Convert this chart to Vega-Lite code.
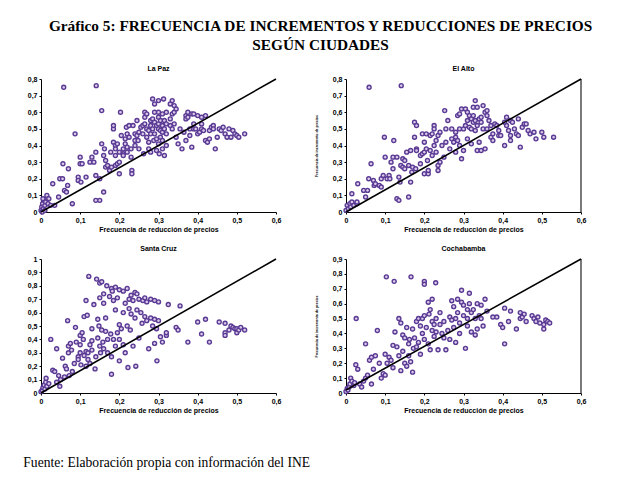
{
  "$schema": "https://vega.github.io/schema/vega-lite/v6.json",
  "background": "white",
  "padding": {"left": 23, "top": 18, "right": 5, "bottom": 5},
  "title": {
    "text": ["Gráfico 5: FRECUENCIA DE INCREMENTOS Y REDUCCIONES DE PRECIOS", "SEGÚN CIUDADES"],
    "font": "Liberation Serif",
    "fontSize": 15.3,
    "fontWeight": "bold",
    "color": "black",
    "anchor": "middle",
    "lineHeight": 19,
    "offset": 12,
    "dx": 16
  },
  "config": {
    "view": {"stroke": null},
    "concat": {"spacing": 33},
    "axis": {
      "grid": false,
      "domainColor": "black",
      "domainWidth": 1,
      "tickColor": "black",
      "tickSize": 2,
      "labelFont": "Liberation Sans",
      "labelFontSize": 7,
      "labelFontWeight": "bold",
      "labelColor": "black",
      "labelPadding": 2,
      "titleFont": "Liberation Sans",
      "titleFontWeight": "bold",
      "titleColor": "black"
    },
    "axisX": {"titleFontSize": 7, "titlePadding": 2},
    "axisY": {"titleFontSize": 3.5, "titlePadding": 14},
    "title": {"font": "Liberation Sans", "fontSize": 7, "fontWeight": "bold", "color": "black", "offset": 3}
  },
  "datasets": {
    "lapaz": [
      {"x":0,"y":0.01},{"x":0.002,"y":0.03},{"x":0.004,"y":0.05},{"x":0.006,"y":0.02},{"x":0.008,"y":0.07},{"x":0.01,"y":0.04},{"x":0.012,"y":0.06},{"x":0.005,"y":0.08},{"x":0.015,"y":0.1},{"x":0.018,"y":0.05},{"x":0.02,"y":0.08},{"x":0.003,"y":0.0},{"x":0.01,"y":0.01},{"x":0.025,"y":0.04},{"x":0.03,"y":0.17},{"x":0.035,"y":0.04},{"x":0.045,"y":0.09},{"x":0.048,"y":0.2},{"x":0.055,"y":0.2},{"x":0.056,"y":0.29},{"x":0.06,"y":0.13},{"x":0.065,"y":0.12},{"x":0.068,"y":0.16},{"x":0.07,"y":0.26},{"x":0.08,"y":0.05},{"x":0.087,"y":0.47},{"x":0.058,"y":0.75},{"x":0.095,"y":0.21},{"x":0.095,"y":0.19},{"x":0.1,"y":0.29},{"x":0.1,"y":0.33},{"x":0.102,"y":0.18},{"x":0.105,"y":0.29},{"x":0.115,"y":0.21},{"x":0.125,"y":0.3},{"x":0.13,"y":0.33},{"x":0.135,"y":0.3},{"x":0.14,"y":0.36},{"x":0.14,"y":0.22},{"x":0.14,"y":0.07},{"x":0.15,"y":0.07},{"x":0.141,"y":0.76},{"x":0.15,"y":0.2},{"x":0.155,"y":0.61},{"x":0.155,"y":0.41},{"x":0.16,"y":0.34},{"x":0.16,"y":0.12},{"x":0.162,"y":0.38},{"x":0.165,"y":0.31},{"x":0.165,"y":0.27},{"x":0.17,"y":0.28},{"x":0.175,"y":0.25},{"x":0.178,"y":0.36},{"x":0.18,"y":0.27},{"x":0.185,"y":0.5},{"x":0.185,"y":0.52},{"x":0.185,"y":0.42},{"x":0.19,"y":0.4},{"x":0.19,"y":0.38},{"x":0.19,"y":0.34},{"x":0.19,"y":0.28},{"x":0.195,"y":0.41},{"x":0.195,"y":0.29},{"x":0.2,"y":0.3},{"x":0.2,"y":0.36},{"x":0.2,"y":0.23},{"x":0.203,"y":0.6},{"x":0.205,"y":0.46},{"x":0.21,"y":0.38},{"x":0.21,"y":0.35},{"x":0.21,"y":0.34},{"x":0.215,"y":0.41},{"x":0.215,"y":0.44},{"x":0.218,"y":0.51},{"x":0.22,"y":0.47},{"x":0.22,"y":0.39},{"x":0.22,"y":0.36},{"x":0.225,"y":0.52},{"x":0.225,"y":0.45},{"x":0.23,"y":0.38},{"x":0.23,"y":0.33},{"x":0.232,"y":0.25},{"x":0.232,"y":0.23},{"x":0.235,"y":0.52},{"x":0.24,"y":0.47},{"x":0.24,"y":0.43},{"x":0.24,"y":0.4},{"x":0.245,"y":0.55},{"x":0.245,"y":0.46},{"x":0.248,"y":0.43},{"x":0.25,"y":0.38},{"x":0.25,"y":0.48},{"x":0.255,"y":0.51},{"x":0.26,"y":0.47},{"x":0.26,"y":0.52},{"x":0.262,"y":0.35},{"x":0.265,"y":0.6},{"x":0.265,"y":0.57},{"x":0.265,"y":0.53},{"x":0.27,"y":0.5},{"x":0.27,"y":0.45},{"x":0.27,"y":0.59},{"x":0.275,"y":0.49},{"x":0.275,"y":0.42},{"x":0.275,"y":0.38},{"x":0.28,"y":0.55},{"x":0.28,"y":0.52},{"x":0.28,"y":0.47},{"x":0.28,"y":0.36},{"x":0.285,"y":0.68},{"x":0.285,"y":0.56},{"x":0.285,"y":0.5},{"x":0.288,"y":0.43},{"x":0.29,"y":0.65},{"x":0.29,"y":0.6},{"x":0.29,"y":0.54},{"x":0.29,"y":0.47},{"x":0.295,"y":0.52},{"x":0.295,"y":0.44},{"x":0.295,"y":0.37},{"x":0.3,"y":0.67},{"x":0.3,"y":0.6},{"x":0.3,"y":0.57},{"x":0.3,"y":0.53},{"x":0.3,"y":0.5},{"x":0.3,"y":0.41},{"x":0.302,"y":0.35},{"x":0.305,"y":0.55},{"x":0.305,"y":0.49},{"x":0.305,"y":0.45},{"x":0.31,"y":0.59},{"x":0.31,"y":0.52},{"x":0.31,"y":0.48},{"x":0.31,"y":0.43},{"x":0.31,"y":0.38},{"x":0.313,"y":0.68},{"x":0.315,"y":0.55},{"x":0.315,"y":0.5},{"x":0.315,"y":0.34},{"x":0.32,"y":0.6},{"x":0.32,"y":0.53},{"x":0.32,"y":0.47},{"x":0.32,"y":0.4},{"x":0.33,"y":0.65},{"x":0.33,"y":0.56},{"x":0.33,"y":0.52},{"x":0.335,"y":0.67},{"x":0.335,"y":0.59},{"x":0.335,"y":0.5},{"x":0.34,"y":0.64},{"x":0.34,"y":0.6},{"x":0.34,"y":0.53},{"x":0.345,"y":0.62},{"x":0.345,"y":0.45},{"x":0.35,"y":0.41},{"x":0.355,"y":0.5},{"x":0.36,"y":0.38},{"x":0.365,"y":0.48},{"x":0.37,"y":0.58},{"x":0.37,"y":0.56},{"x":0.37,"y":0.43},{"x":0.375,"y":0.6},{"x":0.375,"y":0.57},{"x":0.38,"y":0.5},{"x":0.38,"y":0.46},{"x":0.385,"y":0.59},{"x":0.385,"y":0.39},{"x":0.39,"y":0.59},{"x":0.39,"y":0.53},{"x":0.39,"y":0.5},{"x":0.395,"y":0.5},{"x":0.4,"y":0.58},{"x":0.4,"y":0.47},{"x":0.405,"y":0.48},{"x":0.41,"y":0.57},{"x":0.41,"y":0.53},{"x":0.41,"y":0.5},{"x":0.415,"y":0.49},{"x":0.42,"y":0.58},{"x":0.42,"y":0.43},{"x":0.425,"y":0.42},{"x":0.43,"y":0.49},{"x":0.43,"y":0.44},{"x":0.435,"y":0.51},{"x":0.44,"y":0.52},{"x":0.44,"y":0.5},{"x":0.445,"y":0.38},{"x":0.45,"y":0.45},{"x":0.455,"y":0.5},{"x":0.46,"y":0.49},{"x":0.465,"y":0.51},{"x":0.47,"y":0.47},{"x":0.475,"y":0.45},{"x":0.48,"y":0.5},{"x":0.485,"y":0.45},{"x":0.49,"y":0.49},{"x":0.495,"y":0.47},{"x":0.5,"y":0.46},{"x":0.505,"y":0.45},{"x":0.52,"y":0.47}
    ],
    "elalto": [
      {"x":0,"y":0.01},{"x":0.003,"y":0.04},{"x":0.006,"y":0.02},{"x":0.01,"y":0.05},{"x":0.012,"y":0.03},{"x":0.015,"y":0.06},{"x":0.015,"y":0.11},{"x":0.02,"y":0.04},{"x":0.028,"y":0.05},{"x":0.03,"y":0.17},{"x":0.028,"y":0.06},{"x":0.045,"y":0.13},{"x":0.05,"y":0.09},{"x":0.055,"y":0.13},{"x":0.058,"y":0.2},{"x":0.059,"y":0.75},{"x":0.064,"y":0.29},{"x":0.07,"y":0.19},{"x":0.072,"y":0.16},{"x":0.075,"y":0.17},{"x":0.085,"y":0.16},{"x":0.09,"y":0.2},{"x":0.09,"y":0.15},{"x":0.095,"y":0.22},{"x":0.098,"y":0.45},{"x":0.1,"y":0.33},{"x":0.105,"y":0.2},{"x":0.11,"y":0.22},{"x":0.112,"y":0.2},{"x":0.115,"y":0.3},{"x":0.12,"y":0.26},{"x":0.12,"y":0.33},{"x":0.122,"y":0.43},{"x":0.13,"y":0.33},{"x":0.13,"y":0.08},{"x":0.135,"y":0.07},{"x":0.135,"y":0.21},{"x":0.138,"y":0.18},{"x":0.141,"y":0.76},{"x":0.14,"y":0.28},{"x":0.145,"y":0.32},{"x":0.145,"y":0.27},{"x":0.15,"y":0.31},{"x":0.15,"y":0.26},{"x":0.155,"y":0.36},{"x":0.16,"y":0.09},{"x":0.16,"y":0.28},{"x":0.165,"y":0.37},{"x":0.165,"y":0.18},{"x":0.168,"y":0.24},{"x":0.17,"y":0.27},{"x":0.175,"y":0.45},{"x":0.175,"y":0.54},{"x":0.178,"y":0.26},{"x":0.18,"y":0.38},{"x":0.18,"y":0.52},{"x":0.18,"y":0.37},{"x":0.19,"y":0.34},{"x":0.19,"y":0.29},{"x":0.195,"y":0.47},{"x":0.195,"y":0.35},{"x":0.2,"y":0.42},{"x":0.2,"y":0.36},{"x":0.2,"y":0.23},{"x":0.205,"y":0.47},{"x":0.205,"y":0.38},{"x":0.208,"y":0.31},{"x":0.21,"y":0.23},{"x":0.21,"y":0.25},{"x":0.215,"y":0.46},{"x":0.215,"y":0.37},{"x":0.22,"y":0.47},{"x":0.22,"y":0.34},{"x":0.225,"y":0.52},{"x":0.225,"y":0.5},{"x":0.225,"y":0.4},{"x":0.23,"y":0.43},{"x":0.23,"y":0.36},{"x":0.235,"y":0.46},{"x":0.235,"y":0.28},{"x":0.235,"y":0.25},{"x":0.24,"y":0.48},{"x":0.24,"y":0.3},{"x":0.245,"y":0.4},{"x":0.25,"y":0.33},{"x":0.252,"y":0.61},{"x":0.255,"y":0.42},{"x":0.255,"y":0.5},{"x":0.26,"y":0.55},{"x":0.265,"y":0.38},{"x":0.27,"y":0.5},{"x":0.27,"y":0.44},{"x":0.275,"y":0.42},{"x":0.28,"y":0.48},{"x":0.28,"y":0.45},{"x":0.28,"y":0.36},{"x":0.285,"y":0.58},{"x":0.285,"y":0.43},{"x":0.29,"y":0.59},{"x":0.29,"y":0.5},{"x":0.29,"y":0.4},{"x":0.295,"y":0.62},{"x":0.295,"y":0.32},{"x":0.3,"y":0.5},{"x":0.3,"y":0.37},{"x":0.305,"y":0.62},{"x":0.305,"y":0.52},{"x":0.31,"y":0.6},{"x":0.31,"y":0.55},{"x":0.31,"y":0.44},{"x":0.315,"y":0.58},{"x":0.315,"y":0.51},{"x":0.32,"y":0.56},{"x":0.32,"y":0.5},{"x":0.32,"y":0.41},{"x":0.325,"y":0.63},{"x":0.325,"y":0.58},{"x":0.325,"y":0.54},{"x":0.33,"y":0.67},{"x":0.33,"y":0.55},{"x":0.33,"y":0.49},{"x":0.335,"y":0.63},{"x":0.335,"y":0.52},{"x":0.335,"y":0.37},{"x":0.34,"y":0.56},{"x":0.34,"y":0.42},{"x":0.345,"y":0.57},{"x":0.345,"y":0.54},{"x":0.345,"y":0.37},{"x":0.35,"y":0.64},{"x":0.35,"y":0.5},{"x":0.355,"y":0.6},{"x":0.355,"y":0.38},{"x":0.36,"y":0.61},{"x":0.36,"y":0.58},{"x":0.36,"y":0.5},{"x":0.365,"y":0.55},{"x":0.37,"y":0.52},{"x":0.37,"y":0.45},{"x":0.375,"y":0.43},{"x":0.375,"y":0.47},{"x":0.38,"y":0.53},{"x":0.385,"y":0.52},{"x":0.39,"y":0.46},{"x":0.39,"y":0.49},{"x":0.395,"y":0.46},{"x":0.405,"y":0.54},{"x":0.405,"y":0.4},{"x":0.41,"y":0.57},{"x":0.41,"y":0.52},{"x":0.415,"y":0.49},{"x":0.42,"y":0.55},{"x":0.42,"y":0.46},{"x":0.42,"y":0.43},{"x":0.425,"y":0.54},{"x":0.43,"y":0.5},{"x":0.435,"y":0.47},{"x":0.44,"y":0.56},{"x":0.44,"y":0.46},{"x":0.445,"y":0.39},{"x":0.45,"y":0.51},{"x":0.455,"y":0.53},{"x":0.46,"y":0.53},{"x":0.465,"y":0.49},{"x":0.47,"y":0.47},{"x":0.48,"y":0.48},{"x":0.485,"y":0.44},{"x":0.5,"y":0.48},{"x":0.505,"y":0.45},{"x":0.53,"y":0.45}
    ],
    "santacruz": [
      {"x":0,"y":0.01},{"x":0.003,"y":0.02},{"x":0.005,"y":0.04},{"x":0.008,"y":0.06},{"x":0.01,"y":0.03},{"x":0.012,"y":0.08},{"x":0.013,"y":0.11},{"x":0.015,"y":0.05},{"x":0.02,"y":0.07},{"x":0.025,"y":0.4},{"x":0.03,"y":0.17},{"x":0.035,"y":0.16},{"x":0.04,"y":0.08},{"x":0.04,"y":0.33},{"x":0.045,"y":0.13},{"x":0.048,"y":0.05},{"x":0.05,"y":0.1},{"x":0.055,"y":0.26},{"x":0.06,"y":0.12},{"x":0.062,"y":0.2},{"x":0.065,"y":0.18},{"x":0.068,"y":0.54},{"x":0.07,"y":0.35},{"x":0.07,"y":0.3},{"x":0.072,"y":0.13},{"x":0.075,"y":0.37},{"x":0.078,"y":0.32},{"x":0.08,"y":0.16},{"x":0.085,"y":0.22},{"x":0.088,"y":0.49},{"x":0.09,"y":0.38},{"x":0.095,"y":0.27},{"x":0.095,"y":0.25},{"x":0.1,"y":0.43},{"x":0.1,"y":0.36},{"x":0.1,"y":0.3},{"x":0.102,"y":0.21},{"x":0.105,"y":0.45},{"x":0.108,"y":0.4},{"x":0.11,"y":0.57},{"x":0.11,"y":0.28},{"x":0.115,"y":0.31},{"x":0.115,"y":0.2},{"x":0.115,"y":0.69},{"x":0.118,"y":0.58},{"x":0.12,"y":0.3},{"x":0.12,"y":0.25},{"x":0.122,"y":0.87},{"x":0.125,"y":0.36},{"x":0.125,"y":0.22},{"x":0.13,"y":0.48},{"x":0.13,"y":0.39},{"x":0.13,"y":0.32},{"x":0.135,"y":0.66},{"x":0.138,"y":0.18},{"x":0.14,"y":0.27},{"x":0.142,"y":0.85},{"x":0.145,"y":0.41},{"x":0.145,"y":0.55},{"x":0.148,"y":0.5},{"x":0.15,"y":0.82},{"x":0.15,"y":0.71},{"x":0.15,"y":0.35},{"x":0.152,"y":0.3},{"x":0.155,"y":0.83},{"x":0.155,"y":0.47},{"x":0.158,"y":0.38},{"x":0.16,"y":0.74},{"x":0.16,"y":0.67},{"x":0.16,"y":0.33},{"x":0.165,"y":0.56},{"x":0.165,"y":0.46},{"x":0.168,"y":0.8},{"x":0.17,"y":0.4},{"x":0.17,"y":0.3},{"x":0.175,"y":0.72},{"x":0.178,"y":0.44},{"x":0.18,"y":0.78},{"x":0.18,"y":0.14},{"x":0.18,"y":0.27},{"x":0.182,"y":0.76},{"x":0.185,"y":0.69},{"x":0.185,"y":0.4},{"x":0.19,"y":0.79},{"x":0.19,"y":0.62},{"x":0.19,"y":0.35},{"x":0.195,"y":0.71},{"x":0.195,"y":0.45},{"x":0.2,"y":0.77},{"x":0.2,"y":0.51},{"x":0.2,"y":0.4},{"x":0.2,"y":0.24},{"x":0.205,"y":0.48},{"x":0.21,"y":0.76},{"x":0.21,"y":0.6},{"x":0.21,"y":0.36},{"x":0.215,"y":0.67},{"x":0.215,"y":0.3},{"x":0.22,"y":0.78},{"x":0.22,"y":0.5},{"x":0.222,"y":0.19},{"x":0.225,"y":0.63},{"x":0.225,"y":0.7},{"x":0.228,"y":0.47},{"x":0.23,"y":0.73},{"x":0.23,"y":0.59},{"x":0.235,"y":0.69},{"x":0.235,"y":0.35},{"x":0.24,"y":0.75},{"x":0.24,"y":0.56},{"x":0.242,"y":0.2},{"x":0.245,"y":0.74},{"x":0.245,"y":0.62},{"x":0.25,"y":0.7},{"x":0.25,"y":0.41},{"x":0.255,"y":0.6},{"x":0.258,"y":0.52},{"x":0.26,"y":0.69},{"x":0.265,"y":0.71},{"x":0.265,"y":0.57},{"x":0.27,"y":0.68},{"x":0.27,"y":0.54},{"x":0.275,"y":0.33},{"x":0.28,"y":0.7},{"x":0.28,"y":0.56},{"x":0.285,"y":0.5},{"x":0.29,"y":0.69},{"x":0.29,"y":0.55},{"x":0.29,"y":0.37},{"x":0.295,"y":0.48},{"x":0.296,"y":0.24},{"x":0.3,"y":0.68},{"x":0.3,"y":0.54},{"x":0.305,"y":0.42},{"x":0.31,"y":0.38},{"x":0.32,"y":0.43},{"x":0.325,"y":0.66},{"x":0.32,"y":0.45},{"x":0.345,"y":0.49},{"x":0.35,"y":0.47},{"x":0.355,"y":0.65},{"x":0.375,"y":0.38},{"x":0.4,"y":0.53},{"x":0.41,"y":0.44},{"x":0.42,"y":0.55},{"x":0.43,"y":0.38},{"x":0.455,"y":0.53},{"x":0.47,"y":0.52},{"x":0.47,"y":0.45},{"x":0.47,"y":0.43},{"x":0.48,"y":0.47},{"x":0.485,"y":0.5},{"x":0.49,"y":0.49},{"x":0.495,"y":0.48},{"x":0.5,"y":0.48},{"x":0.5,"y":0.45},{"x":0.505,"y":0.47},{"x":0.51,"y":0.49},{"x":0.52,"y":0.47}
    ],
    "cochabamba": [
      {"x":0,"y":0.01},{"x":0.003,"y":0.03},{"x":0.005,"y":0.02},{"x":0.008,"y":0.04},{"x":0.01,"y":0.06},{"x":0.012,"y":0.1},{"x":0.015,"y":0.08},{"x":0.02,"y":0.05},{"x":0.022,"y":0.07},{"x":0.025,"y":0.19},{"x":0.026,"y":0.5},{"x":0.03,"y":0.16},{"x":0.035,"y":0.06},{"x":0.04,"y":0.04},{"x":0.045,"y":0.08},{"x":0.05,"y":0.1},{"x":0.05,"y":0.33},{"x":0.055,"y":0.12},{"x":0.06,"y":0.22},{"x":0.065,"y":0.06},{"x":0.065,"y":0.24},{"x":0.07,"y":0.16},{"x":0.075,"y":0.25},{"x":0.08,"y":0.42},{"x":0.085,"y":0.2},{"x":0.09,"y":0.1},{"x":0.095,"y":0.13},{"x":0.1,"y":0.26},{"x":0.1,"y":0.12},{"x":0.103,"y":0.78},{"x":0.105,"y":0.2},{"x":0.11,"y":0.24},{"x":0.115,"y":0.22},{"x":0.12,"y":0.32},{"x":0.12,"y":0.17},{"x":0.123,"y":0.75},{"x":0.125,"y":0.41},{"x":0.13,"y":0.31},{"x":0.135,"y":0.25},{"x":0.135,"y":0.5},{"x":0.14,"y":0.47},{"x":0.14,"y":0.15},{"x":0.145,"y":0.28},{"x":0.145,"y":0.39},{"x":0.15,"y":0.37},{"x":0.15,"y":0.2},{"x":0.155,"y":0.18},{"x":0.155,"y":0.44},{"x":0.16,"y":0.33},{"x":0.16,"y":0.25},{"x":0.162,"y":0.36},{"x":0.166,"y":0.78},{"x":0.165,"y":0.21},{"x":0.17,"y":0.43},{"x":0.17,"y":0.14},{"x":0.172,"y":0.3},{"x":0.175,"y":0.37},{"x":0.18,"y":0.48},{"x":0.18,"y":0.31},{"x":0.185,"y":0.5},{"x":0.185,"y":0.34},{"x":0.19,"y":0.45},{"x":0.19,"y":0.26},{"x":0.195,"y":0.5},{"x":0.195,"y":0.4},{"x":0.2,"y":0.75},{"x":0.2,"y":0.73},{"x":0.2,"y":0.52},{"x":0.2,"y":0.36},{"x":0.205,"y":0.44},{"x":0.21,"y":0.61},{"x":0.21,"y":0.33},{"x":0.212,"y":0.53},{"x":0.215,"y":0.56},{"x":0.215,"y":0.29},{"x":0.22,"y":0.48},{"x":0.22,"y":0.63},{"x":0.22,"y":0.42},{"x":0.225,"y":0.46},{"x":0.225,"y":0.38},{"x":0.229,"y":0.74},{"x":0.23,"y":0.5},{"x":0.23,"y":0.41},{"x":0.235,"y":0.29},{"x":0.24,"y":0.46},{"x":0.24,"y":0.54},{"x":0.245,"y":0.4},{"x":0.25,"y":0.48},{"x":0.25,"y":0.37},{"x":0.255,"y":0.29},{"x":0.26,"y":0.42},{"x":0.265,"y":0.51},{"x":0.265,"y":0.36},{"x":0.27,"y":0.62},{"x":0.27,"y":0.49},{"x":0.275,"y":0.58},{"x":0.275,"y":0.44},{"x":0.28,"y":0.5},{"x":0.28,"y":0.34},{"x":0.285,"y":0.63},{"x":0.285,"y":0.54},{"x":0.29,"y":0.47},{"x":0.29,"y":0.4},{"x":0.295,"y":0.69},{"x":0.295,"y":0.61},{"x":0.3,"y":0.59},{"x":0.3,"y":0.52},{"x":0.305,"y":0.3},{"x":0.31,"y":0.56},{"x":0.31,"y":0.5},{"x":0.31,"y":0.45},{"x":0.315,"y":0.67},{"x":0.315,"y":0.6},{"x":0.32,"y":0.54},{"x":0.32,"y":0.41},{"x":0.325,"y":0.56},{"x":0.33,"y":0.5},{"x":0.33,"y":0.39},{"x":0.335,"y":0.6},{"x":0.335,"y":0.43},{"x":0.34,"y":0.52},{"x":0.345,"y":0.59},{"x":0.345,"y":0.5},{"x":0.35,"y":0.45},{"x":0.355,"y":0.63},{"x":0.36,"y":0.55},{"x":0.375,"y":0.51},{"x":0.385,"y":0.51},{"x":0.395,"y":0.46},{"x":0.4,"y":0.44},{"x":0.405,"y":0.57},{"x":0.405,"y":0.33},{"x":0.415,"y":0.48},{"x":0.42,"y":0.55},{"x":0.435,"y":0.43},{"x":0.445,"y":0.54},{"x":0.445,"y":0.5},{"x":0.45,"y":0.51},{"x":0.455,"y":0.53},{"x":0.46,"y":0.48},{"x":0.475,"y":0.52},{"x":0.48,"y":0.5},{"x":0.485,"y":0.48},{"x":0.49,"y":0.51},{"x":0.495,"y":0.47},{"x":0.505,"y":0.46},{"x":0.505,"y":0.43},{"x":0.51,"y":0.49},{"x":0.515,"y":0.48},{"x":0.52,"y":0.47}
    ],
    "lines": [
      {"city":"La Paz","x":0,"y":0},{"city":"La Paz","x":0.6,"y":0.8},
      {"city":"El Alto","x":0,"y":0},{"city":"El Alto","x":0.6,"y":0.8},
      {"city":"Santa Cruz","x":0,"y":0},{"city":"Santa Cruz","x":0.6,"y":1},
      {"city":"Cochabamba","x":0,"y":0.02},{"city":"Cochabamba","x":0.6,"y":0.9}
    ],
    "edges": [
      {"city":"El Alto","x":0.6,"y":0},{"city":"El Alto","x":0.6,"y":0.8},
      {"city":"Cochabamba","x":0.6,"y":0},{"city":"Cochabamba","x":0.6,"y":0.9}
    ]
  },
  "spacing": 13,
  "vconcat": [
    {
      "spacing": 33,
      "hconcat": [
        {
          "width": 235, "height": 133,
          "title": "La Paz",
          "encoding": {
            "x": {"field": "x", "type": "quantitative", "scale": {"domain": [0, 0.6], "nice": false}, "axis": {"values": [0,0.1,0.2,0.3,0.4,0.5,0.6], "labelOverlap": false, "labelFlush": false, "labelExpr": "replace(format(datum.value, '.1~f'), '.', ',')", "title": "Frecuencia de reducción de precios"}},
            "y": {"field": "y", "type": "quantitative", "scale": {"domain": [0, 0.8], "nice": false}, "axis": {"values": [0,0.1,0.2,0.3,0.4,0.5,0.6,0.7,0.8], "labelOverlap": false, "labelFlush": false, "labelExpr": "replace(format(datum.value, '.1~f'), '.', ',')", "title": null}}
          },
          "layer": [
            {"data": {"name": "lapaz"}, "mark": {"type": "point", "shape": "circle", "filled": true, "size": 16, "fill": "#D9CCEB", "stroke": "#5B3A94", "strokeWidth": 1.4, "opacity": 1}},
            {"data": {"name": "lines"}, "transform": [{"filter": "datum.city == 'La Paz'"}], "mark": {"type": "line", "color": "black", "strokeWidth": 1.5}}
          ]
        },
        {
          "width": 235, "height": 133,
          "title": "El Alto",
          "encoding": {
            "x": {"field": "x", "type": "quantitative", "scale": {"domain": [0, 0.6], "nice": false}, "axis": {"values": [0,0.1,0.2,0.3,0.4,0.5,0.6], "labelOverlap": false, "labelFlush": false, "labelExpr": "replace(format(datum.value, '.1~f'), '.', ',')", "title": "Frecuencia de reducción de precios"}},
            "y": {"field": "y", "type": "quantitative", "scale": {"domain": [0, 0.8], "nice": false}, "axis": {"values": [0,0.1,0.2,0.3,0.4,0.5,0.6,0.7,0.8], "labelOverlap": false, "labelFlush": false, "labelExpr": "replace(format(datum.value, '.1~f'), '.', ',')", "title": "Frecuencia de incremento de precios"}}
          },
          "layer": [
            {"data": {"name": "edges"}, "transform": [{"filter": "datum.city == 'El Alto'"}], "mark": {"type": "line", "color": "#7a7a7a", "strokeWidth": 2}},
            {"data": {"name": "elalto"}, "mark": {"type": "point", "shape": "circle", "filled": true, "size": 16, "fill": "#D9CCEB", "stroke": "#5B3A94", "strokeWidth": 1.4, "opacity": 1}},
            {"data": {"name": "lines"}, "transform": [{"filter": "datum.city == 'El Alto'"}], "mark": {"type": "line", "color": "black", "strokeWidth": 1.5}}
          ]
        }
      ]
    },
    {
      "spacing": 33,
      "title": {"text": "Fuente: Elaboración propia con información del INE", "orient": "bottom", "anchor": "start", "font": "Liberation Serif", "fontSize": 13.6, "fontWeight": "normal", "color": "black", "offset": 43, "dx": -4},
      "hconcat": [
        {
          "width": 235, "height": 134,
          "title": "Santa Cruz",
          "encoding": {
            "x": {"field": "x", "type": "quantitative", "scale": {"domain": [0, 0.6], "nice": false}, "axis": {"values": [0,0.1,0.2,0.3,0.4,0.5,0.6], "labelOverlap": false, "labelFlush": false, "labelExpr": "replace(format(datum.value, '.1~f'), '.', ',')", "title": "Frecuencia de reducción de precios"}},
            "y": {"field": "y", "type": "quantitative", "scale": {"domain": [0, 1], "nice": false}, "axis": {"values": [0,0.1,0.2,0.3,0.4,0.5,0.6,0.7,0.8,0.9,1], "labelOverlap": false, "labelFlush": false, "labelExpr": "replace(format(datum.value, '.1~f'), '.', ',')", "title": null}}
          },
          "layer": [
            {"data": {"name": "santacruz"}, "mark": {"type": "point", "shape": "circle", "filled": true, "size": 16, "fill": "#D9CCEB", "stroke": "#5B3A94", "strokeWidth": 1.4, "opacity": 1}},
            {"data": {"name": "lines"}, "transform": [{"filter": "datum.city == 'Santa Cruz'"}], "mark": {"type": "line", "color": "black", "strokeWidth": 1.5}}
          ]
        },
        {
          "width": 235, "height": 134,
          "title": "Cochabamba",
          "encoding": {
            "x": {"field": "x", "type": "quantitative", "scale": {"domain": [0, 0.6], "nice": false}, "axis": {"values": [0,0.1,0.2,0.3,0.4,0.5,0.6], "labelOverlap": false, "labelFlush": false, "labelExpr": "replace(format(datum.value, '.1~f'), '.', ',')", "title": "Frecuencia de reducción de precios"}},
            "y": {"field": "y", "type": "quantitative", "scale": {"domain": [0, 0.9], "nice": false}, "axis": {"values": [0,0.1,0.2,0.3,0.4,0.5,0.6,0.7,0.8,0.9], "labelOverlap": false, "labelFlush": false, "labelExpr": "replace(format(datum.value, '.1~f'), '.', ',')", "title": "Frecuencia de incremento de precios"}}
          },
          "layer": [
            {"data": {"name": "edges"}, "transform": [{"filter": "datum.city == 'Cochabamba'"}], "mark": {"type": "line", "color": "#7a7a7a", "strokeWidth": 2}},
            {"data": {"name": "cochabamba"}, "mark": {"type": "point", "shape": "circle", "filled": true, "size": 16, "fill": "#D9CCEB", "stroke": "#5B3A94", "strokeWidth": 1.4, "opacity": 1}},
            {"data": {"name": "lines"}, "transform": [{"filter": "datum.city == 'Cochabamba'"}], "mark": {"type": "line", "color": "black", "strokeWidth": 1.5}}
          ]
        }
      ]
    }
  ]
}
